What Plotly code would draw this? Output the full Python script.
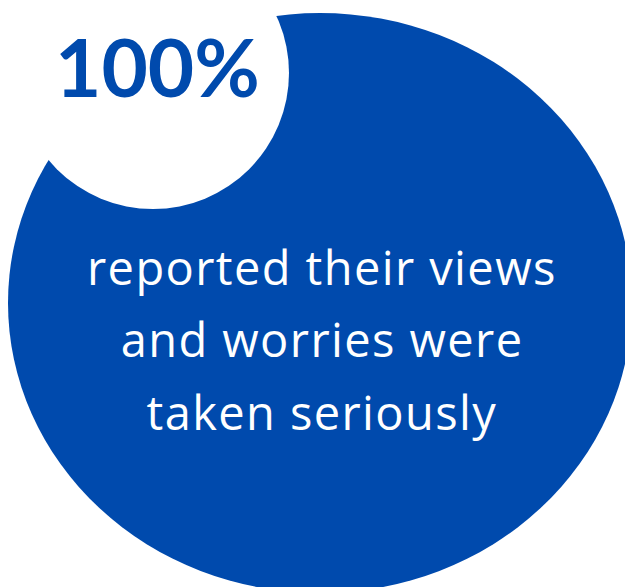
import json
import plotly.graph_objects as go

# Headline figure and the statement it belongs to
share_pct = 100
statement_lines = ["reported their views", "and worries were", "taken seriously"]

BLUE = "#004AAD"
W, H = 625, 587

fig = go.Figure()

# Large blue disc (slightly wider than tall) running off the right and bottom edges
fig.add_shape(type="circle", xref="x", yref="y",
              x0=8, x1=632, y0=13, y1=593,
              fillcolor=BLUE, line=dict(width=0), layer="below")
# White disc overlapping the top-left, holding the headline number
fig.add_shape(type="circle", xref="x", yref="y",
              x0=153 - 136, x1=153 + 136, y0=73 - 136, y1=73 + 136,
              fillcolor="white", line=dict(width=0), layer="below")

# Headline percentage
fig.add_annotation(x=157, y=66, xref="x", yref="y",
                   text=f"<b>{share_pct}%</b>", showarrow=False,
                   xanchor="center", yanchor="middle",
                   font=dict(family="Lato", size=80, color=BLUE))

# Statement text, one line per annotation
line_y = [267, 339, 412]
for txt, yy in zip(statement_lines, line_y):
    fig.add_annotation(x=322, y=yy, xref="x", yref="y", text=txt,
                       showarrow=False, xanchor="center", yanchor="middle",
                       font=dict(family="Open Sans", size=47, color="white"))

fig.update_layout(
    width=W, height=H,
    margin=dict(l=0, r=0, t=0, b=0),
    paper_bgcolor="white", plot_bgcolor="white",
    showlegend=False,
    xaxis=dict(range=[0, W], visible=False, fixedrange=True),
    yaxis=dict(range=[H, 0], visible=False, fixedrange=True),
)

# Open up the tracking of the statement lines a little
tracking_js = """
var lines = %s;
document.querySelectorAll('.annotation-text').forEach(function (t) {
  if (lines.indexOf(t.textContent) >= 0) {
    t.style.letterSpacing = '1.4px';
  }
});
""" % json.dumps(statement_lines)

fig.write_html("out.html", post_script=tracking_js)
